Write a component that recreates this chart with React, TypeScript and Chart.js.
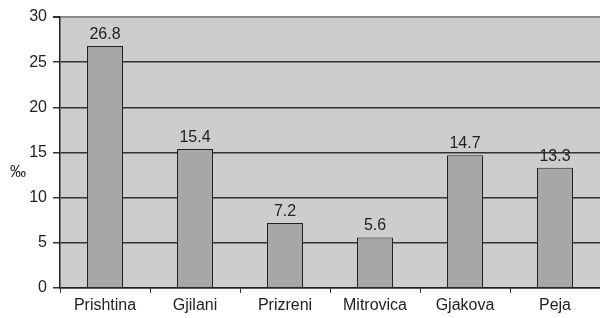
import React, { useEffect, useRef } from "react";
import { Chart, registerables } from "chart.js";

Chart.register(...registerables);

const categories = ["Prishtina", "Gjilani", "Prizreni", "Mitrovica", "Gjakova", "Peja"];
const values = [26.8, 15.4, 7.2, 5.6, 14.7, 13.3];
const yTitle = "‰";

const FONT = "'Liberation Sans', Arial, sans-serif";

export default function App() {
  const ref = useRef<HTMLCanvasElement | null>(null);
  useEffect(() => {
    document.body.style.margin = "0";
    const canvas = ref.current!;
    const plotBg = {
      id: "plotBg",
      beforeDraw(chart: any) {
        const { ctx, chartArea: a } = chart;
        ctx.save();
        ctx.fillStyle = "#cdcdcf";
        ctx.fillRect(a.left, a.top, a.right - a.left, a.bottom - a.top);
        ctx.restore();
      },
    };
    const labels = {
      id: "labels",
      afterDatasetsDraw(chart: any) {
        const { ctx, chartArea: a } = chart;
        const meta = chart.getDatasetMeta(0);
        ctx.save();
        ctx.font = `16px ${FONT}`;
        ctx.fillStyle = "#222";
        ctx.textAlign = "center";
        ctx.textBaseline = "alphabetic";
        meta.data.forEach((bar: any, i: number) => {
          ctx.fillText(values[i].toFixed(1), bar.x, bar.y - 7);
        });
        ctx.textAlign = "center";
        ctx.textBaseline = "middle";
        ctx.fillText(yTitle, 18, a.top + (a.bottom - a.top) * 0.575);
        ctx.restore();
      },
    };
    const chart = new Chart(canvas, {
      type: "bar",
      data: {
        labels: categories,
        datasets: [
          {
            data: values,
            backgroundColor: "#a7a7aa",
            borderColor: "#222",
            borderWidth: 1,
            barPercentage: 0.5,
            categoryPercentage: 0.8,
          },
        ],
      },
      options: {
        animation: false,
        responsive: false,
        layout: { padding: { top: 17, right: 0, left: 0, bottom: 0 } },
        plugins: { legend: { display: false }, tooltip: { enabled: false } },
        scales: {
          x: {
            offset: true,
            grid: {
              offset: true,
              drawOnChartArea: false,
              drawTicks: true,
              tickLength: 5,
              color: "#333",
            },
            border: { color: "#222", width: 1.5 },
            ticks: { color: "#222", font: { size: 16, family: FONT }, padding: 3, maxRotation: 0 },
            afterFit(s: any) {
              s.height = 30;
            },
          },
          y: {
            min: 0,
            max: 30,
            ticks: { stepSize: 5, color: "#222", font: { size: 16, family: FONT }, padding: 6 },
            grid: {
              color: (c: any) => (c.tick && c.tick.value === 30 ? "#8a8a8a" : "#333"),
              lineWidth: (c: any) => (c.tick && c.tick.value === 30 ? 2 : 1.5),
              tickLength: 7,
              tickColor: "#333",
            },
            border: { color: "#222", width: 1.5 },
            afterFit(s: any) {
              s.width = 60;
            },
          },
        },
      },
      plugins: [plotBg, labels],
    });
    return () => chart.destroy();
  }, []);
  return <canvas ref={ref} width={600} height={318} style={{ display: "block" }} />;
}
